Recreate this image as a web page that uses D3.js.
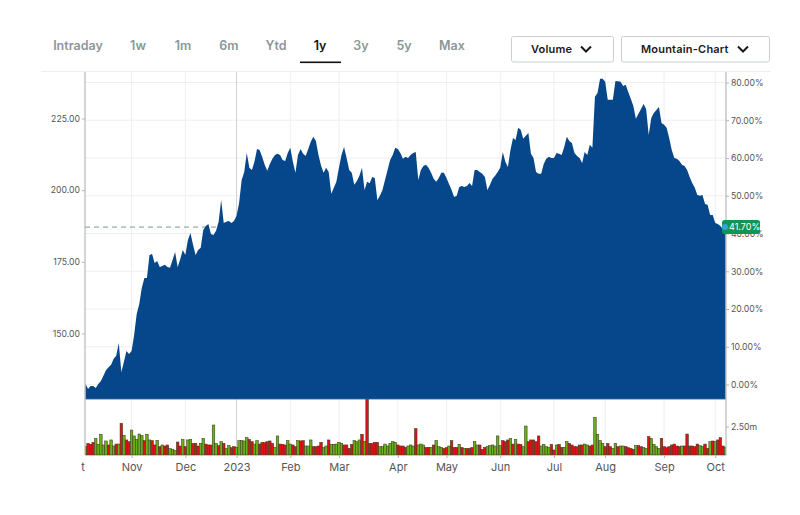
<!DOCTYPE html>
<html>
<head>
<meta charset="utf-8">
<script src="https://cdn.jsdelivr.net/npm/d3@7"></script>
<style>
  html, body { margin: 0; padding: 0; background: #fff; }
  svg { display: block; }
  text { font-family: Inter, "Open Sans", sans-serif; }
  .domain { display: none; }
</style>
</head>
<body>
<svg id="chart" width="800" height="515"></svg>
<script>
// performance in % against the first day, one value per trading day
const changePct = [
  0.1,-1.2,-0.4,-0.4,-0.9,0.1,0.9,2.3,3.8,4.6,5.2,6.8,7.6,11.0,3.3,6.0,8.9,8.1,8.9,13.1,
  18.7,21.3,25.6,28.2,28.2,34.3,34.6,32.2,32.7,31.1,31.4,31.7,31.1,30.9,33.0,35.1,31.1,33.2,35.6,34.3,
  38.3,40.1,37.0,34.3,35.6,36.2,40.9,42.0,42.5,39.9,39.6,40.7,43.1,48.9,42.8,43.1,43.3,42.8,43.3,44.7,
  48.1,54.2,56.3,61.3,57.4,56.8,59.0,62.4,62.1,60.3,58.2,56.6,58.4,59.8,60.8,61.1,60.8,59.5,59.2,61.3,
  62.7,59.0,56.1,60.8,62.4,61.1,60.5,62.4,64.3,65.6,64.5,60.8,58.0,56.1,57.4,56.3,50.5,52.1,53.7,57.4,
  60.8,62.9,60.0,56.8,56.1,52.9,53.9,55.3,57.4,51.5,53.7,53.3,55.0,54.7,48.9,50.0,51.5,54.2,56.8,59.5,
  60.8,62.7,62.4,61.3,59.8,60.3,60.0,60.8,61.3,61.6,54.2,56.8,57.9,58.2,57.4,56.1,54.5,53.7,54.7,56.1,
  56.1,54.7,53.1,51.5,49.7,50.0,52.3,52.6,52.3,52.6,53.4,52.6,56.8,56.8,56.3,55.8,55.0,51.5,52.9,54.5,
  55.3,56.3,57.4,61.6,59.0,57.6,62.1,65.3,64.8,68.0,67.5,65.1,65.9,66.6,61.1,60.0,56.3,55.8,55.8,58.4,
  59.8,60.3,60.0,60.0,61.3,61.1,60.8,62.9,65.6,64.5,64.0,61.3,60.5,60.0,58.7,61.6,60.8,63.5,62.7,76.2,
  77.2,81.0,81.0,80.2,75.4,75.4,75.4,80.4,80.3,80.2,79.1,79.4,77.5,75.7,73.8,70.4,71.7,73.0,74.3,73.0,
  66.1,70.6,71.9,72.7,73.5,69.3,68.8,68.0,65.3,62.1,60.0,59.8,59.2,58.2,57.9,56.8,55.0,53.4,52.1,50.2,
  50.0,50.2,47.8,47.6,44.9,44.9,42.8,42.5,42.0,41.2,41.7
];

// volume in millions
const volumes = [
  .73,1.02,.94,1.11,1.43,.94,1.81,.88,1.23,.88,1.32,.79,.96,.96,2.78,1.73,1.32,1.17,2.19,1.67,
  1.37,1.84,1.70,1.26,1.81,1.32,1.26,.88,1.29,.73,.88,.79,.88,.56,.50,.40,1.14,.79,1.37,.73,
  1.32,1.37,1.02,1.02,.79,1.02,1.46,.96,.88,.88,2.63,1.02,.82,1.17,1.02,.58,.82,.64,.73,.67,
  1.26,1.26,1.23,1.52,1.37,1.17,.96,1.26,.96,1.11,1.08,1.17,1.23,1.02,.67,1.67,.96,.94,.88,1.26,
  .96,.88,.73,1.26,1.23,1.26,.79,.79,1.32,.73,.73,.79,1.11,.64,.79,1.32,.94,.94,.96,1.11,
  1.02,.88,.88,.58,.94,1.26,1.17,1.32,1.81,1.20,5.40,1.02,1.02,1.11,1.11,.73,.73,.96,.79,1.02,
  1.17,1.11,.88,.79,.79,.67,.79,.88,.79,2.31,.88,.96,.88,.67,.67,.67,.88,1.26,.73,.67,
  .58,.64,.79,1.26,.67,.67,.94,.67,.58,.58,.58,.67,1.20,.88,.88,.50,.67,.73,.82,.88,
  .79,1.67,.82,1.26,1.17,1.32,1.43,.96,1.37,.96,.94,.73,2.54,1.17,1.32,1.32,1.17,1.67,.79,.94,
  .73,.67,.94,.44,.88,.94,.67,.67,1.17,1.02,.88,.73,.73,.88,.88,.96,.88,.79,.88,3.30,
  1.81,1.26,1.02,.73,1.02,.73,.58,1.02,.73,.79,.79,.73,.64,.58,.50,.82,.82,.73,.64,.58,
  1.61,1.46,.94,.73,.58,1.46,.73,.64,.73,.88,.96,.79,.73,.79,.79,1.84,.79,.79,.73,.96,
  .82,.73,.96,.58,1.17,1.23,1.17,1.32,1.52,.79,.64
];

// g = up day, r = down day, ten days per piece
const volumeDirection = [
  "grrrgggggr","ggrgrgrrgg","gggrggrrgr","grrgggrrgr","ggrrrggrrr",
  "ggrgrggrrg","ggggrrggrr","rrrrggrrrg","grrgrrgggr","rrrggrgggg",
  "grrrrgggrg","rrrrrggggg","ggrrrrgggr","gggrrgrggg","rrgrrrgrgr",
  "rrggrrrggg","gggrrrgrgr","rggrrrrrgg","ggrrgrrggr","rrrrrggrrg",
  "gggrrrggrg","grrrrgrrgg","rggggrrrrr","rrrgrrrrrr","ggrrgrgrrrg"
].join("").split("");

const tabLabels = ["Intraday", "1w", "1m", "6m", "Ytd", "1y", "3y", "5y", "Max"];
const tabCenters = [78, 138, 183, 229, 276, 320, 361, 404, 452];
const activeTab = "1y";

const monthLabels = ["Oct", "Nov", "Dec", "2023", "Feb", "Mar", "Apr", "May", "Jun", "Jul", "Aug", "Sep", "Oct"];
const monthIndex = [-4, 18, 39, 59, 80, 99, 122, 141, 162, 183, 203, 226, 246];

const priceTicks = [150, 175, 200, 225];
const pctTicks = [0, 10, 20, 30, 40, 50, 60, 70, 80];
const volumeTicks = [2.5];
const lastPct = 41.7;

const svg = d3.select("#chart");

const xScale = d3.scaleLinear().domain([0, changePct.length - 1]).range([85.5, 725.5]);
const yPct = d3.scaleLinear().domain([0, 80]).range([384.5, 82.5]);
const yPrice = d3.scaleLinear().domain([150, 225]).range([333.5, 118.5]);
const yVolume = d3.scaleLinear().domain([0, 2.5]).range([455, 426.5]);

const plotTop = 72, plotBottom = 399, volBottom = 455;

const defs = svg.append("defs");
defs.append("clipPath").attr("id", "plot-clip").append("rect")
  .attr("x", 85).attr("y", plotTop).attr("width", 641).attr("height", plotBottom - plotTop);
defs.append("clipPath").attr("id", "vol-clip").append("rect")
  .attr("x", 85).attr("y", plotBottom).attr("width", 641).attr("height", volBottom - plotBottom);
// the axis group is translated, so this one is in its local coordinates
defs.append("clipPath").attr("id", "month-clip").append("rect")
  .attr("x", 81).attr("y", 0).attr("width", 719).attr("height", 30);

// tabs
svg.append("g").selectAll("text").data(tabLabels).join("text")
  .attr("x", (d, i) => tabCenters[i])
  .attr("y", 49.5)
  .attr("text-anchor", "middle")
  .attr("font-size", 12.5)
  .attr("font-weight", 600)
  .attr("fill", d => d === activeTab ? "#111" : "#8c9699")
  .text(d => d);

svg.append("rect").attr("x", 300).attr("y", 61.5).attr("width", 41).attr("height", 1.6).attr("fill", "#111");

// dropdown buttons
function addButton(x, w, label, textX, chevX) {
  const g = svg.append("g");
  g.append("rect").attr("x", x + .5).attr("y", 36.5).attr("width", w).attr("height", 25.5)
    .attr("rx", 2).attr("fill", "#fff").attr("stroke", "#c9cfd1").attr("stroke-width", 1);
  g.append("text").attr("x", textX).attr("y", 53).attr("font-size", 11).attr("font-weight", 600)
    .attr("letter-spacing", .2).attr("fill", "#1a1a1a").text(label);
  g.append("path").attr("d", `M${chevX - 5},46.5 L${chevX},51.5 L${chevX + 5},46.5`)
    .attr("fill", "none").attr("stroke", "#1a1a1a").attr("stroke-width", 2);
}
addButton(511, 102, "Volume", 531, 586);
addButton(621, 148, "Mountain-Chart", 641, 743);

// grid
const grid = svg.append("g");
grid.append("line").attr("x1", 41).attr("x2", 771).attr("y1", 71.5).attr("y2", 71.5).attr("stroke", "#eeeeee");
grid.selectAll(".hgrid").data(pctTicks).join("line").attr("class", "hgrid")
  .attr("x1", 85).attr("x2", 726)
  .attr("y1", d => yPct(d)).attr("y2", d => yPct(d))
  .attr("stroke", "#efefef");
grid.selectAll(".vgrid").data(monthIndex.slice(1)).join("line").attr("class", "vgrid")
  .attr("x1", d => xScale(d)).attr("x2", d => xScale(d))
  .attr("y1", plotTop).attr("y2", volBottom)
  .attr("stroke", d => d === 59 ? "#d2d2d2" : "#efefef");

// dashed line of the last value
svg.append("line")
  .attr("x1", 85).attr("x2", 726)
  .attr("y1", yPct(lastPct)).attr("y2", yPct(lastPct))
  .attr("stroke", "#7d9a9a").attr("stroke-dasharray", "5,4");

// mountain
const area = d3.area()
  .x((d, i) => xScale(i))
  .y0(plotBottom)
  .y1(d => yPct(d));

svg.append("path")
  .datum(changePct)
  .attr("clip-path", "url(#plot-clip)")
  .attr("d", area)
  .attr("fill", "#05478a");

svg.append("line").attr("x1", 85).attr("x2", 726).attr("y1", plotBottom + .3).attr("y2", plotBottom + .3)
  .attr("stroke", "#6f9cc6").attr("stroke-width", .8);

// volume bars
const barWidth = xScale(1) - xScale(0);
svg.append("g").attr("clip-path", "url(#vol-clip)")
  .selectAll("rect").data(volumes).join("rect")
  .attr("x", (d, i) => xScale(i) - barWidth / 2)
  .attr("y", d => yVolume(d))
  .attr("width", barWidth)
  .attr("height", d => volBottom - yVolume(d))
  .attr("fill", (d, i) => volumeDirection[i] === "g" ? "#66b01c" : "#dc1219")
  .attr("stroke", "#3f3a1c")
  .attr("stroke-width", .55);

// axis rails
svg.append("line").attr("x1", 85).attr("x2", 85).attr("y1", plotTop).attr("y2", volBottom).attr("stroke", "#a9a9a9");
svg.append("line").attr("x1", 726).attr("x2", 726).attr("y1", plotTop).attr("y2", volBottom).attr("stroke", "#a9a9a9");
svg.append("line").attr("x1", 85).attr("x2", 726).attr("y1", volBottom + .5).attr("y2", volBottom + .5).attr("stroke", "#c8c8c8");

function styleAxis(g, size) {
  g.selectAll("text").attr("font-size", size).attr("fill", "#555").attr("font-family", "Inter, 'Open Sans', sans-serif");
  g.selectAll("line").attr("stroke", "#b5b5b5");
}

svg.append("g").attr("transform", "translate(85,0)")
  .call(d3.axisLeft(yPrice).tickValues(priceTicks).tickSize(3).tickPadding(2).tickFormat(d3.format(".2f")))
  .call(styleAxis, 8.7);

svg.append("g").attr("transform", "translate(726,0)")
  .call(d3.axisRight(yPct).tickValues(pctTicks).tickSize(3).tickPadding(2).tickFormat(d => d3.format(".2f")(d) + "%"))
  .call(styleAxis, 8.7);

svg.append("g").attr("transform", "translate(726,0)")
  .call(d3.axisRight(yVolume).tickValues(volumeTicks).tickSize(3).tickPadding(2).tickFormat(d => d3.format(".2f")(d) + "m"))
  .call(styleAxis, 8.7);

svg.append("g").attr("transform", `translate(0,${volBottom})`).attr("clip-path", "url(#month-clip)")
  .call(d3.axisBottom(xScale).tickValues(monthIndex).tickSize(3).tickPadding(5)
    .tickFormat((d, i) => monthLabels[i]))
  .call(styleAxis, 11);

// last value badge
const badge = svg.append("g");
badge.append("rect").attr("x", 722).attr("y", yPct(lastPct) - 7).attr("width", 38).attr("height", 14)
  .attr("rx", 2.5).attr("fill", "#0f9657");
badge.append("circle").attr("cx", 725).attr("cy", yPct(lastPct)).attr("r", 3).attr("fill", "#2ba6d6");
badge.append("text").attr("x", 729).attr("y", yPct(lastPct) + 3.2)
  .attr("font-size", 9).attr("fill", "#fff").text(lastPct.toFixed(2) + "%");
</script>
</body>
</html>
